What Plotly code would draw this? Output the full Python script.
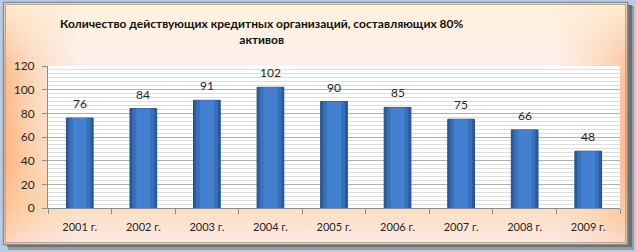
import base64
import plotly.graph_objects as go

# ---- data ----
categories = ["2001 г.", "2002 г.", "2003 г.", "2004 г.", "2005 г.", "2006 г.", "2007 г.", "2008 г.", "2009 г."]
values = [76, 84, 91, 102, 90, 85, 75, 66, 48]
y_ticks = [0, 20, 40, 60, 80, 100, 120]
title_text = "Количество действующих кредитных организаций, составляющих 80%<br>активов"

W, H = 636, 252
PL, PR, PT, PB = 48, 620, 66, 208  # plot area in pixels
FONT = "Lato, 'Open Sans', 'DejaVu Sans', sans-serif"


def px(x):
    return (x - PL) / (PR - PL)


def py(y):
    return (PB - y) / (PB - PT)


svg = f"""<svg xmlns='http://www.w3.org/2000/svg' width='{W}' height='{H}' viewBox='0 0 {W} {H}' preserveAspectRatio='none'>
<defs>
<linearGradient id='v' x1='0' y1='0' x2='0' y2='1'>
<stop offset='0' stop-color='#FFF1D9'/>
<stop offset='0.22' stop-color='#FDEFEA'/>
<stop offset='0.45' stop-color='#FDF0EF'/>
<stop offset='0.84' stop-color='#FDDDBF'/>
<stop offset='1' stop-color='#FCE9E6'/>
</linearGradient>
<linearGradient id='e' x1='0' y1='0' x2='1' y2='0'>
<stop offset='0' stop-color='#FBB07A' stop-opacity='0.95'/>
<stop offset='0.05' stop-color='#FCC08A' stop-opacity='0.55'/>
<stop offset='0.12' stop-color='#FDD0A0' stop-opacity='0'/>
<stop offset='0.88' stop-color='#FDD0A0' stop-opacity='0'/>
<stop offset='0.95' stop-color='#FCC08A' stop-opacity='0.5'/>
<stop offset='1' stop-color='#FBB07A' stop-opacity='0.85'/>
</linearGradient>
<linearGradient id='m' x1='0' y1='0' x2='0' y2='1'>
<stop offset='0' stop-color='white' stop-opacity='0.1'/>
<stop offset='0.3' stop-color='white' stop-opacity='0.9'/>
<stop offset='0.65' stop-color='white' stop-opacity='1'/>
<stop offset='1' stop-color='white' stop-opacity='0.3'/>
</linearGradient>
<mask id='mk'><rect x='0' y='0' width='{W}' height='{H}' fill='url(#m)'/></mask>
</defs>
<rect x='0' y='0' width='{W}' height='{H}' fill='#B7CBE6'/>
<rect x='8' y='6' width='626' height='244' fill='#9A9A9A'/>
<rect x='7' y='5' width='625' height='242' fill='#6F6F6F'/>
<rect x='3' y='2' width='625' height='243' fill='url(#v)'/>
<rect x='3' y='2' width='625' height='243' fill='url(#e)' mask='url(#mk)'/>
<rect x='3.5' y='2.5' width='624' height='242' fill='none' stroke='#8A8A8A' stroke-width='1.5'/>
<rect x='5.5' y='4.5' width='620' height='238' fill='none' stroke='#B8A898' stroke-width='1'/>
<rect x='{PL}' y='{PT}' width='{PR - PL}' height='{PB - PT}' fill='#FFFFFF'/>
</svg>"""
svg_uri = "data:image/svg+xml;base64," + base64.b64encode(svg.encode("utf-8")).decode("ascii")

fig = go.Figure()
fig.add_trace(go.Bar(
    x=categories, y=values, width=0.42,
    marker=dict(color="#2C5C9C", line=dict(color="#244E86", width=1)),
    hoverinfo="skip",
))
fig.add_trace(go.Bar(
    x=categories, y=values, width=0.34,
    marker=dict(color="#3770BC", line=dict(width=0)), hoverinfo="skip",
))
fig.add_trace(go.Bar(
    x=categories, y=values, width=0.22,
    marker=dict(color="#4381D0", line=dict(width=0)), hoverinfo="skip",
))

annotations = [dict(
    x=c, y=v, xref="x", yref="y", text=str(v), showarrow=False,
    yanchor="bottom", yshift=5, font=dict(family=FONT, size=12, color="#262626"),
) for c, v in zip(categories, values)]
annotations.append(dict(
    text=f"<b>{title_text}</b>", xref="paper", yref="paper",
    x=px(262), y=py(31), xanchor="center", yanchor="middle",
    showarrow=False, font=dict(family=FONT, size=12, color="#111111"),
))

fig.update_layout(
    width=W, height=H,
    margin=dict(l=PL, r=W - PR, t=PT, b=H - PB, autoexpand=False),
    paper_bgcolor="#B7CBE6",
    plot_bgcolor="rgba(0,0,0,0)",
    barmode="overlay",
    showlegend=False,
    font=dict(family=FONT, size=12, color="#262626"),
    images=[dict(
        source=svg_uri, xref="paper", yref="paper",
        x=px(0), y=py(0), sizex=W / (PR - PL), sizey=H / (PB - PT),
        xanchor="left", yanchor="top", sizing="stretch", layer="below",
    )],
    annotations=annotations,
)

fig.update_xaxes(
    showline=True, linecolor="#8C8C8C", linewidth=1,
    ticks="outside", tickson="boundaries", ticklen=5, tickcolor="#8C8C8C",
    tickfont=dict(family=FONT, size=11, color="#262626"),
    ticklabelstandoff=9, showgrid=False,
)
fig.update_yaxes(
    range=[0, 120], tickvals=y_ticks,
    showline=True, linecolor="#8C8C8C", linewidth=1,
    ticks="outside", ticklen=5, tickcolor="#8C8C8C",
    tickfont=dict(family=FONT, size=12, color="#262626"),
    ticklabelstandoff=5,
    showgrid=True, gridcolor="#B0B0B0", gridwidth=1,
    minor=dict(dtick=10 / 3, tick0=0, showgrid=True, gridcolor="#DEDEDE", gridwidth=1, ticks=""),
    zeroline=False,
)

fig.write_html(
    "out.html",
    config={"displayModeBar": False},
    post_script="document.body.style.margin='0';document.body.style.padding='0';",
)
